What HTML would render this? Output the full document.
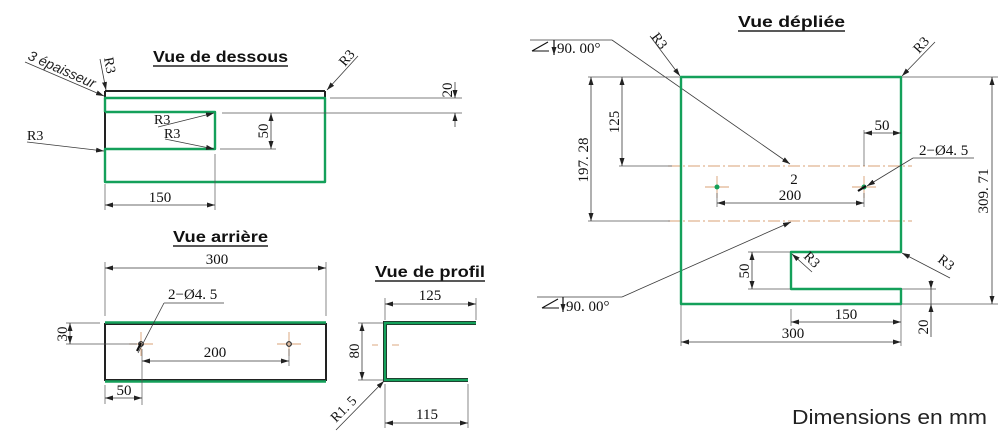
<!DOCTYPE html>
<html><head><meta charset="utf-8"><style>
html,body{margin:0;padding:0;background:#fff;}
svg{display:block;}
.d{stroke:#3a3a3a;stroke-width:0.8;fill:none;}
.e{stroke:#555;stroke-width:0.7;fill:none;}
.g{stroke:#14a05a;stroke-width:2.4;fill:none;stroke-linejoin:round;}
.k{stroke:#222;stroke-width:2;fill:none;}
.c{stroke:#d8a074;stroke-width:0.9;fill:none;}
.cd{stroke:#d8a074;stroke-width:0.9;fill:none;stroke-dasharray:12 3 2 3;}
.n{font-family:"Liberation Serif",serif;font-size:15px;fill:#111;}
.r{font-family:"Liberation Serif",serif;font-size:14px;fill:#111;}
.t{font-family:"Liberation Sans",sans-serif;font-size:16px;font-weight:bold;fill:#111;}
.s{font-family:"Liberation Sans",sans-serif;font-size:14px;font-style:italic;fill:#222;}
</style></head><body>
<svg width="1000" height="440" viewBox="0 0 1000 440" xmlns="http://www.w3.org/2000/svg">
<defs>
<marker id="a" viewBox="0 0 8 5" refX="8" refY="2.5" markerWidth="8" markerHeight="5" markerUnits="userSpaceOnUse" orient="auto-start-reverse"><path d="M0,0 L8,2.5 L0,5 z" fill="#222"/></marker>
</defs>

<!-- ============ Vue de dessous ============ -->
<text class="t" x="153" y="62" textLength="135" lengthAdjust="spacingAndGlyphs">Vue de dessous</text>
<line x1="153" y1="66" x2="288" y2="66" stroke="#222" stroke-width="1.5"/>
<line class="k" x1="105" y1="91" x2="325" y2="91"/>
<line class="k" x1="105" y1="91" x2="105" y2="98"/>
<line class="k" x1="325" y1="91" x2="325" y2="98"/>
<line class="k" x1="105" y1="112" x2="105" y2="149"/>
<path class="g" d="M105,112 V98 H325 V182 H105 V149 H215 V112 H105"/>
<!-- dim 20 -->
<line class="e" x1="330" y1="98" x2="462" y2="98"/>
<line class="e" x1="222" y1="113" x2="462" y2="113"/>
<line class="d" x1="455" y1="82" x2="455" y2="98" marker-end="url(#a)"/>
<line class="d" x1="455" y1="127" x2="455" y2="113" marker-end="url(#a)"/>
<text class="n" transform="translate(452,90) rotate(-90)" text-anchor="middle">20</text>
<!-- dim 50 -->
<line class="e" x1="220" y1="149" x2="276" y2="149"/>
<line class="d" x1="271" y1="113" x2="271" y2="149" marker-start="url(#a)" marker-end="url(#a)"/>
<text class="n" transform="translate(268,131) rotate(-90)" text-anchor="middle">50</text>
<!-- dim 150 -->
<line class="e" x1="105" y1="184" x2="105" y2="210"/>
<line class="e" x1="215" y1="154" x2="215" y2="210"/>
<line class="d" x1="105" y1="205" x2="215" y2="205" marker-start="url(#a)" marker-end="url(#a)"/>
<text class="n" x="160" y="202" text-anchor="middle">150</text>
<!-- leaders -->
<line class="d" x1="25" y1="62" x2="104" y2="96" marker-end="url(#a)"/>
<text class="s" transform="translate(27,59) rotate(24)">3 épaisseur</text>
<line class="d" x1="100" y1="59" x2="106" y2="90" marker-end="url(#a)"/>
<text class="r" transform="translate(104,58) rotate(80)">R3</text>
<line class="d" x1="358" y1="56" x2="327" y2="90" marker-end="url(#a)"/>
<text class="r" transform="translate(345,67) rotate(-50)">R3</text>
<line class="d" x1="27" y1="142" x2="104" y2="151" marker-end="url(#a)"/>
<text class="r" x="27" y="140">R3</text>
<line class="d" x1="158" y1="127" x2="214" y2="113" marker-end="url(#a)"/>
<text class="r" x="154" y="124">R3</text>
<line class="d" x1="165" y1="139" x2="214" y2="149" marker-end="url(#a)"/>
<text class="r" x="164" y="138">R3</text>

<!-- ============ Vue arrière ============ -->
<text class="t" x="173" y="242" textLength="95" lengthAdjust="spacingAndGlyphs">Vue arrière</text>
<line x1="173" y1="246" x2="268" y2="246" stroke="#222" stroke-width="1.5"/>
<line class="e" x1="105" y1="262" x2="105" y2="316"/>
<line class="e" x1="326" y1="262" x2="326" y2="316"/>
<line class="d" x1="105" y1="268" x2="326" y2="268" marker-start="url(#a)" marker-end="url(#a)"/>
<text class="n" x="217" y="264" text-anchor="middle">300</text>
<rect x="105" y="324" width="221" height="56" fill="none" stroke="#222" stroke-width="2"/>
<line class="g" x1="105" y1="322.5" x2="326" y2="322.5"/>
<line class="g" x1="105" y1="381.5" x2="326" y2="381.5"/>
<!-- holes -->
<line class="c" x1="129" y1="344" x2="153" y2="344"/><line class="c" x1="141" y1="332" x2="141" y2="356"/>
<line class="c" x1="277" y1="344" x2="301" y2="344"/><line class="c" x1="289" y1="332" x2="289" y2="356"/>
<circle cx="141" cy="344" r="2.3" fill="none" stroke="#222" stroke-width="1.2"/>
<circle cx="289" cy="344" r="2.3" fill="none" stroke="#222" stroke-width="1.2"/>
<!-- 30 -->
<line class="e" x1="66" y1="323" x2="100" y2="323"/>
<line class="e" x1="66" y1="344" x2="137" y2="344"/>
<line class="d" x1="70" y1="323" x2="70" y2="344" marker-start="url(#a)" marker-end="url(#a)"/>
<text class="n" transform="translate(67,334) rotate(-90)" text-anchor="middle">30</text>
<!-- 200 -->
<line class="e" x1="142" y1="349" x2="142" y2="405"/>
<line class="e" x1="289" y1="349" x2="289" y2="366"/>
<line class="d" x1="142" y1="361" x2="289" y2="361" marker-start="url(#a)" marker-end="url(#a)"/>
<text class="n" x="215" y="357" text-anchor="middle">200</text>
<!-- 50 -->
<line class="e" x1="105" y1="385" x2="105" y2="404"/>
<line class="d" x1="105" y1="398" x2="142" y2="398" marker-start="url(#a)" marker-end="url(#a)"/>
<text class="n" x="124" y="395" text-anchor="middle">50</text>
<!-- 2-Ø4.5 -->
<text class="n" x="168" y="299">2−Ø4. 5</text>
<line class="d" x1="164" y1="303" x2="224" y2="303"/>
<line class="d" x1="164" y1="303" x2="138" y2="353"/>
<line x1="141" y1="343" x2="137" y2="351" stroke="#111" stroke-width="2.2"/>

<!-- ============ Vue de profil ============ -->
<text class="t" x="375" y="277" textLength="110" lengthAdjust="spacingAndGlyphs">Vue de profil</text>
<line x1="375" y1="281" x2="485" y2="281" stroke="#222" stroke-width="1.5"/>
<path d="M476,323 H385 V380 H468" fill="none" stroke="#222" stroke-width="4"/>
<path d="M476,323 H385 V380 H468" fill="none" stroke="#14a05a" stroke-width="2.4"/>
<line class="c" x1="372" y1="345" x2="378" y2="345"/><line class="c" x1="392" y1="345" x2="399" y2="345"/>
<!-- 125 -->
<line class="e" x1="385" y1="298" x2="385" y2="320"/>
<line class="e" x1="476" y1="298" x2="476" y2="320"/>
<line class="d" x1="385" y1="304" x2="476" y2="304" marker-start="url(#a)" marker-end="url(#a)"/>
<text class="n" x="430" y="300" text-anchor="middle">125</text>
<!-- 80 -->
<line class="e" x1="358" y1="323" x2="383" y2="323"/>
<line class="e" x1="358" y1="380" x2="383" y2="380"/>
<line class="d" x1="362" y1="323" x2="362" y2="380" marker-start="url(#a)" marker-end="url(#a)"/>
<text class="n" transform="translate(359,351) rotate(-90)" text-anchor="middle">80</text>
<!-- 115 -->
<line class="e" x1="385" y1="384" x2="385" y2="428"/>
<line class="e" x1="468" y1="384" x2="468" y2="428"/>
<line class="d" x1="385" y1="423" x2="468" y2="423" marker-start="url(#a)" marker-end="url(#a)"/>
<text class="n" x="427" y="419" text-anchor="middle">115</text>
<!-- R1.5 -->
<line class="d" x1="336" y1="430" x2="384" y2="381" marker-end="url(#a)"/>
<text class="r" transform="translate(336,423) rotate(-45)">R1. 5</text>

<!-- ============ Vue dépliée ============ -->
<text class="t" x="738" y="27" textLength="107" lengthAdjust="spacingAndGlyphs">Vue dépliée</text>
<line x1="738" y1="31" x2="845" y2="31" stroke="#222" stroke-width="1.5"/>
<!-- bend lines -->
<line class="cd" x1="668" y1="166" x2="912" y2="166"/>
<line class="cd" x1="668" y1="221" x2="912" y2="221"/>
<!-- 90.00 leaders -->
<line class="d" x1="530" y1="40" x2="612" y2="40"/>
<line class="d" x1="612" y1="40" x2="790" y2="164" marker-end="url(#a)"/>
<path d="M532,51 L548,42 M532,51 L549,51" stroke="#111" stroke-width="1.1" fill="none"/>
<line x1="554" y1="40" x2="554" y2="55" stroke="#111" stroke-width="1.2" marker-end="url(#a)"/>
<text class="n" x="557" y="53">90. 00°</text>
<line class="d" x1="537" y1="297" x2="622" y2="297"/>
<line class="d" x1="622" y1="297" x2="791" y2="222" marker-end="url(#a)"/>
<path d="M542,308 L558,299 M542,308 L559,308" stroke="#111" stroke-width="1.1" fill="none"/>
<line x1="563" y1="297" x2="563" y2="312" stroke="#111" stroke-width="1.2" marker-end="url(#a)"/>
<text class="n" x="566" y="311">90. 00°</text>
<!-- shape -->
<path class="g" d="M681,77 H901 V252 H791 V289 H901 V304 H681 Z"/>
<!-- holes -->
<line class="c" x1="705" y1="187" x2="729" y2="187"/><line class="c" x1="717" y1="176" x2="717" y2="198"/>
<line class="c" x1="852" y1="187" x2="876" y2="187"/><line class="c" x1="864" y1="176" x2="864" y2="198"/>
<circle cx="717" cy="187" r="2.5" fill="#14a05a"/>
<circle cx="864" cy="187" r="2.5" fill="#14a05a"/>
<!-- 200 -->
<line class="e" x1="717" y1="193" x2="717" y2="207"/>
<line class="e" x1="864" y1="193" x2="864" y2="207"/>
<line class="d" x1="717" y1="203" x2="864" y2="203" marker-start="url(#a)" marker-end="url(#a)"/>
<text class="n" x="794" y="184" text-anchor="middle">2</text>
<text class="n" x="790" y="200" text-anchor="middle">200</text>
<!-- 50 top -->
<line class="e" x1="864" y1="130" x2="864" y2="166"/>
<line class="d" x1="864" y1="133" x2="901" y2="133" marker-start="url(#a)" marker-end="url(#a)"/>
<text class="n" x="882" y="130" text-anchor="middle">50</text>
<!-- 2-Ø4.5 -->
<text class="n" x="919" y="155">2−Ø4. 5</text>
<line class="d" x1="913" y1="158" x2="974" y2="158"/>
<line class="d" x1="913" y1="158" x2="867" y2="186" marker-end="url(#a)"/>
<line x1="866" y1="186" x2="858" y2="191" stroke="#111" stroke-width="2.2"/>
<!-- left dims -->
<line class="e" x1="588" y1="77" x2="680" y2="77"/>
<line class="e" x1="619" y1="166" x2="672" y2="166"/>
<line class="e" x1="588" y1="221" x2="670" y2="221"/>
<line class="d" x1="622" y1="77" x2="622" y2="166" marker-start="url(#a)" marker-end="url(#a)"/>
<text class="n" transform="translate(619,122) rotate(-90)" text-anchor="middle">125</text>
<line class="d" x1="591" y1="77" x2="591" y2="221" marker-start="url(#a)" marker-end="url(#a)"/>
<text class="n" transform="translate(588,160) rotate(-90)" text-anchor="middle">197. 28</text>
<!-- right dim 309.71 -->
<line class="e" x1="902" y1="77" x2="998" y2="77"/>
<line class="e" x1="902" y1="304" x2="998" y2="304"/>
<line class="d" x1="992" y1="77" x2="992" y2="304" marker-start="url(#a)" marker-end="url(#a)"/>
<text class="n" transform="translate(988,191) rotate(-90)" text-anchor="middle">309. 71</text>
<!-- R3 top -->
<line class="d" x1="650" y1="36" x2="680" y2="76" marker-end="url(#a)"/>
<text class="r" transform="translate(651,37) rotate(53)">R3</text>
<line class="d" x1="935" y1="42" x2="902" y2="76" marker-end="url(#a)"/>
<text class="r" transform="translate(919,54) rotate(-48)">R3</text>
<!-- notch R3 -->
<line class="d" x1="812" y1="272" x2="792" y2="254" marker-end="url(#a)"/>
<text class="r" transform="translate(803,257) rotate(45)">R3</text>
<line class="d" x1="950" y1="278" x2="902" y2="253" marker-end="url(#a)"/>
<text class="r" transform="translate(937,261) rotate(38)">R3</text>
<!-- 50 notch -->
<line class="e" x1="748" y1="252" x2="790" y2="252"/>
<line class="e" x1="748" y1="289" x2="790" y2="289"/>
<line class="d" x1="752" y1="252" x2="752" y2="289" marker-start="url(#a)" marker-end="url(#a)"/>
<text class="n" transform="translate(749,271) rotate(-90)" text-anchor="middle">50</text>
<!-- 20 -->
<line class="e" x1="902" y1="289" x2="936" y2="289"/>
<line class="d" x1="931" y1="280" x2="931" y2="289" marker-end="url(#a)"/>
<line class="d" x1="931" y1="337" x2="931" y2="304" marker-end="url(#a)"/>
<line class="d" x1="931" y1="289" x2="931" y2="304"/>
<text class="n" transform="translate(928,327) rotate(-90)" text-anchor="middle">20</text>
<!-- 150 / 300 -->
<line class="e" x1="791" y1="309" x2="791" y2="326"/>
<line class="e" x1="681" y1="305" x2="681" y2="346"/>
<line class="e" x1="901" y1="305" x2="901" y2="346"/>
<line class="d" x1="791" y1="322" x2="901" y2="322" marker-start="url(#a)" marker-end="url(#a)"/>
<text class="n" x="846" y="319" text-anchor="middle">150</text>
<line class="d" x1="681" y1="342" x2="901" y2="342" marker-start="url(#a)" marker-end="url(#a)"/>
<text class="n" x="793" y="338" text-anchor="middle">300</text>

<!-- footer -->
<text x="792" y="424" textLength="195" lengthAdjust="spacingAndGlyphs" style="font-family:'Liberation Sans',sans-serif;font-size:20px;fill:#222;">Dimensions en mm</text>
</svg>
</body></html>
